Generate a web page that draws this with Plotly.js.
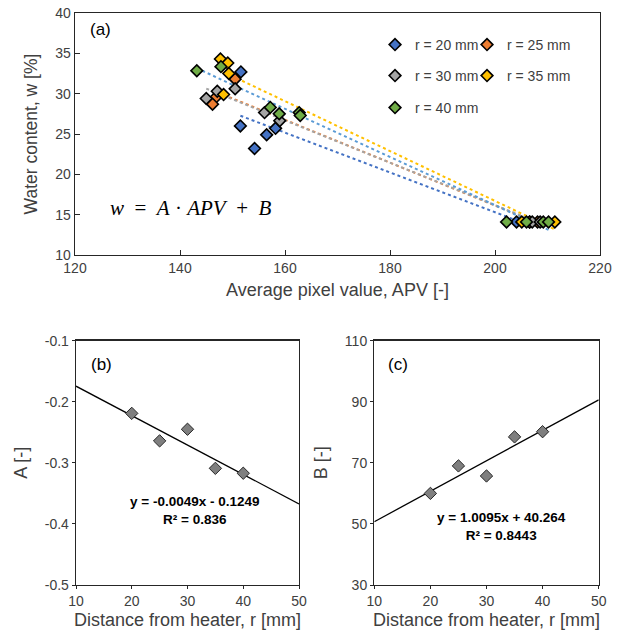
<!DOCTYPE html>
<html>
<head>
<meta charset="utf-8">
<script src="https://cdn.plot.ly/plotly-3.0.1.min.js"></script>
<style>html,body{margin:0;padding:0;background:#fff;}#chart{width:624px;height:637px;}</style>
</head>
<body>
<div id="chart"></div>
<script>
// ---------- Panel (a) data: APV vs water content per radius ----------
const seriesNames = ["r = 20 mm", "r = 25 mm", "r = 30 mm", "r = 35 mm", "r = 40 mm"];
const apv20 = [151.6, 151.5, 154.2, 156.5, 158.2, 204.1, 206.6];
const w20   = [32.7, 26.0, 23.2, 24.9, 25.7, 14.1, 14.1];
const apv25 = [150.5, 146.9, 146.2, 206.6, 208.1];
const w25   = [31.8, 29.6, 28.7, 14.1, 14.1];
const apv30 = [150.5, 147.1, 145.0, 156.1, 159.0, 207.1, 208.6];
const w30   = [30.6, 30.3, 29.4, 27.65, 26.65, 14.1, 14.1];
const apv35 = [147.7, 149.1, 149.3, 148.3, 205.1, 211.4];
const w35   = [34.3, 33.8, 32.5, 29.9, 14.1, 14.1];
const apv40 = [143.2, 147.8, 157.2, 158.9, 162.7, 162.9, 202.2, 206.0, 209.2, 210.2];
const w40   = [32.85, 33.35, 28.3, 27.5, 27.65, 27.3, 14.1, 14.1, 14.1, 14.1];

// ---------- Panels (b) and (c) data ----------
const radius = [20, 25, 30, 35, 40];
const coefA  = [-0.219, -0.264, -0.245, -0.309, -0.317];
const coefB  = [60.0, 69.0, 65.7, 78.5, 80.2];
const fitTextA = ["y = -0.0049x - 0.1249", "R² = 0.836"];
const fitTextB = ["y = 1.0095x + 40.264", "R² = 0.8443"];
const rangeR = [10, 50];
const tickValsA = [-0.5, -0.4, -0.3, -0.2, -0.1];
const tickTextA = ["-0.5", "-0.4", "-0.3", "-0.2", "-0.1"];

// ---------- styling ----------
const fillColors  = ["#4472C4", "#ED7D31", "#A5A5A5", "#FFC000", "#70AD47"];
const trendColors = ["#4472C4", "#ED7D31", "#A5A5A5", "#FFC000", "#5B9BD5"];
const legendIds   = ["legend", "legend2", "legend3", "legend4", "legend5"];
const legendPos   = [[375, 45], [467, 45], [375, 76], [467, 76], [375, 108]];
const txt = "#404040";
const FONT = "Liberation Sans, Arial, sans-serif";

function linfit(x, y) {
  const n = x.length;
  const mx = x.reduce((a, b) => a + b, 0) / n;
  const my = y.reduce((a, b) => a + b, 0) / n;
  let sxy = 0, sxx = 0;
  for (let i = 0; i < n; i++) { sxy += (x[i] - mx) * (y[i] - my); sxx += (x[i] - mx) ** 2; }
  const m = sxy / sxx;
  return [m, my - m * mx];
}

const xsA = [apv20, apv25, apv30, apv35, apv40];
const ysA = [w20, w25, w30, w35, w40];
const traces = [];

xsA.forEach((xs, i) => {
  const [m, c] = linfit(xs, ysA[i]);
  const x0 = Math.min(...xs), x1 = Math.max(...xs);
  traces.push({
    x: [x0, x1], y: [m * x0 + c, m * x1 + c], mode: "lines", type: "scatter",
    line: {color: trendColors[i], width: 2, dash: "dot"},
    showlegend: false, hoverinfo: "skip", xaxis: "x", yaxis: "y"
  });
});
xsA.forEach((xs, i) => {
  traces.push({
    x: xs, y: ysA[i], mode: "markers", type: "scatter", name: seriesNames[i],
    marker: {symbol: "diamond", size: 9, color: fillColors[i], line: {color: "#000", width: 1.6}},
    legend: legendIds[i], xaxis: "x", yaxis: "y"
  });
});

const fa = linfit(radius, coefA);
traces.push({x: rangeR, y: rangeR.map(r => fa[0] * r + fa[1]), mode: "lines", type: "scatter",
  line: {color: "#000", width: 1.3}, showlegend: false, xaxis: "x2", yaxis: "y2"});
traces.push({x: radius, y: coefA, mode: "markers", type: "scatter", showlegend: false,
  marker: {symbol: "diamond", size: 9.5, color: "#7F7F7F", line: {color: "#262626", width: 1}},
  xaxis: "x2", yaxis: "y2"});
const fb = linfit(radius, coefB);
traces.push({x: rangeR, y: rangeR.map(r => fb[0] * r + fb[1]), mode: "lines", type: "scatter",
  line: {color: "#000", width: 1.3}, showlegend: false, xaxis: "x3", yaxis: "y3"});
traces.push({x: radius, y: coefB, mode: "markers", type: "scatter", showlegend: false,
  marker: {symbol: "diamond", size: 9.5, color: "#7F7F7F", line: {color: "#262626", width: 1}},
  xaxis: "x3", yaxis: "y3"});

function axis(extra) {
  return Object.assign({
    showgrid: false, zeroline: false, showline: true, mirror: true,
    linecolor: "#262626", linewidth: 1.3, ticks: "inside", ticklen: 5, tickcolor: "#262626",
    tickfont: {family: FONT, size: 14, color: txt}, automargin: false, fixedrange: true
  }, extra);
}
const H = 637, W = 624;
const tFont = (s) => ({family: FONT, size: s, color: txt});
const legBase = {orientation: "v", xref: "paper", yref: "paper", xanchor: "left", yanchor: "middle",
  bgcolor: "rgba(0,0,0,0)", borderwidth: 0, font: {family: FONT, size: 14, color: txt},
  itemclick: false, itemdoubleclick: false};

const layout = {
  width: W, height: H, margin: {l: 0, r: 0, t: 0, b: 0},
  paper_bgcolor: "#fff", plot_bgcolor: "#fff", showlegend: true,
  font: {family: FONT, color: txt},
  xaxis: axis({domain: [75 / W, 600 / W], range: [120, 220], dtick: 20, anchor: "y",
    title: {text: "Average pixel value, APV [-]", font: tFont(18), standoff: 8}}),
  yaxis: axis({domain: [1 - 255 / H, 1 - 13 / H], range: [10, 40], dtick: 5, anchor: "x",
    title: {text: "Water content, w [%]", font: tFont(17.5), standoff: 13}}),
  xaxis2: axis({domain: [76 / W, 299 / W], range: rangeR, dtick: 10, anchor: "y2", ticks: "outside", ticklen: 3,
    title: {text: "Distance from heater, r [mm]", font: tFont(18), standoff: 5}}),
  yaxis2: axis({domain: [1 - 585 / H, 1 - 340.7 / H], range: [-0.5, -0.1], tickmode: "array",
    tickvals: tickValsA, ticktext: tickTextA, anchor: "x2", ticks: "outside", ticklen: 3,
    title: {text: "A [-]", font: tFont(18), standoff: 12}}),
  xaxis3: axis({domain: [374.3 / W, 598.7 / W], range: rangeR, dtick: 10, anchor: "y3", ticks: "outside", ticklen: 3,
    title: {text: "Distance from heater, r [mm]", font: tFont(18), standoff: 5}}),
  yaxis3: axis({domain: [1 - 585 / H, 1 - 340.7 / H], range: [30, 110], tick0: 30, dtick: 20, anchor: "x3",
    ticks: "outside", ticklen: 3,
    title: {text: "B [-]", font: tFont(18), standoff: 12}}),
  annotations: [
    {text: "(a)", xref: "paper", yref: "paper", x: 88 / W, y: 1 - 30 / H, xanchor: "left", yanchor: "middle",
      showarrow: false, font: {family: FONT, size: 17, color: "#000"}},
    {text: "(b)", xref: "paper", yref: "paper", x: 89 / W, y: 1 - 364 / H, xanchor: "left", yanchor: "middle",
      showarrow: false, font: {family: FONT, size: 17, color: "#000"}},
    {text: "(c)", xref: "paper", yref: "paper", x: 386 / W, y: 1 - 364 / H, xanchor: "left", yanchor: "middle",
      showarrow: false, font: {family: FONT, size: 17, color: "#000"}},
    {text: "<i>w</i>\u00A0\u00A0=\u00A0\u00A0<i>A</i>\u00A0·\u00A0<i>APV</i>\u00A0\u00A0+\u00A0\u00A0<i>B</i>",
      xref: "paper", yref: "paper", x: 108 / W, y: 1 - 208 / H, xanchor: "left", yanchor: "middle",
      showarrow: false, font: {family: "Liberation Serif, DejaVu Serif, serif", size: 21, color: "#000"}},
    {text: "<b>" + fitTextA[0] + "</b><br><b>" + fitTextA[1] + "</b>", xref: "paper", yref: "paper",
      x: 194 / W, y: 1 - 510 / H, xanchor: "center", yanchor: "middle", showarrow: false,
      font: {family: FONT, size: 13.5, color: "#000"}},
    {text: "<b>" + fitTextB[0] + "</b><br><b>" + fitTextB[1] + "</b>", xref: "paper", yref: "paper",
      x: 501 / W, y: 1 - 526 / H, xanchor: "center", yanchor: "middle", showarrow: false,
      font: {family: FONT, size: 13.5, color: "#000"}}
  ]
};
legendIds.forEach((id, i) => {
  layout[id] = Object.assign({}, legBase, {x: legendPos[i][0] / W, y: 1 - legendPos[i][1] / H});
});

Plotly.newPlot("chart", traces, layout, {displayModeBar: false, staticPlot: true});
</script>
</body>
</html>
